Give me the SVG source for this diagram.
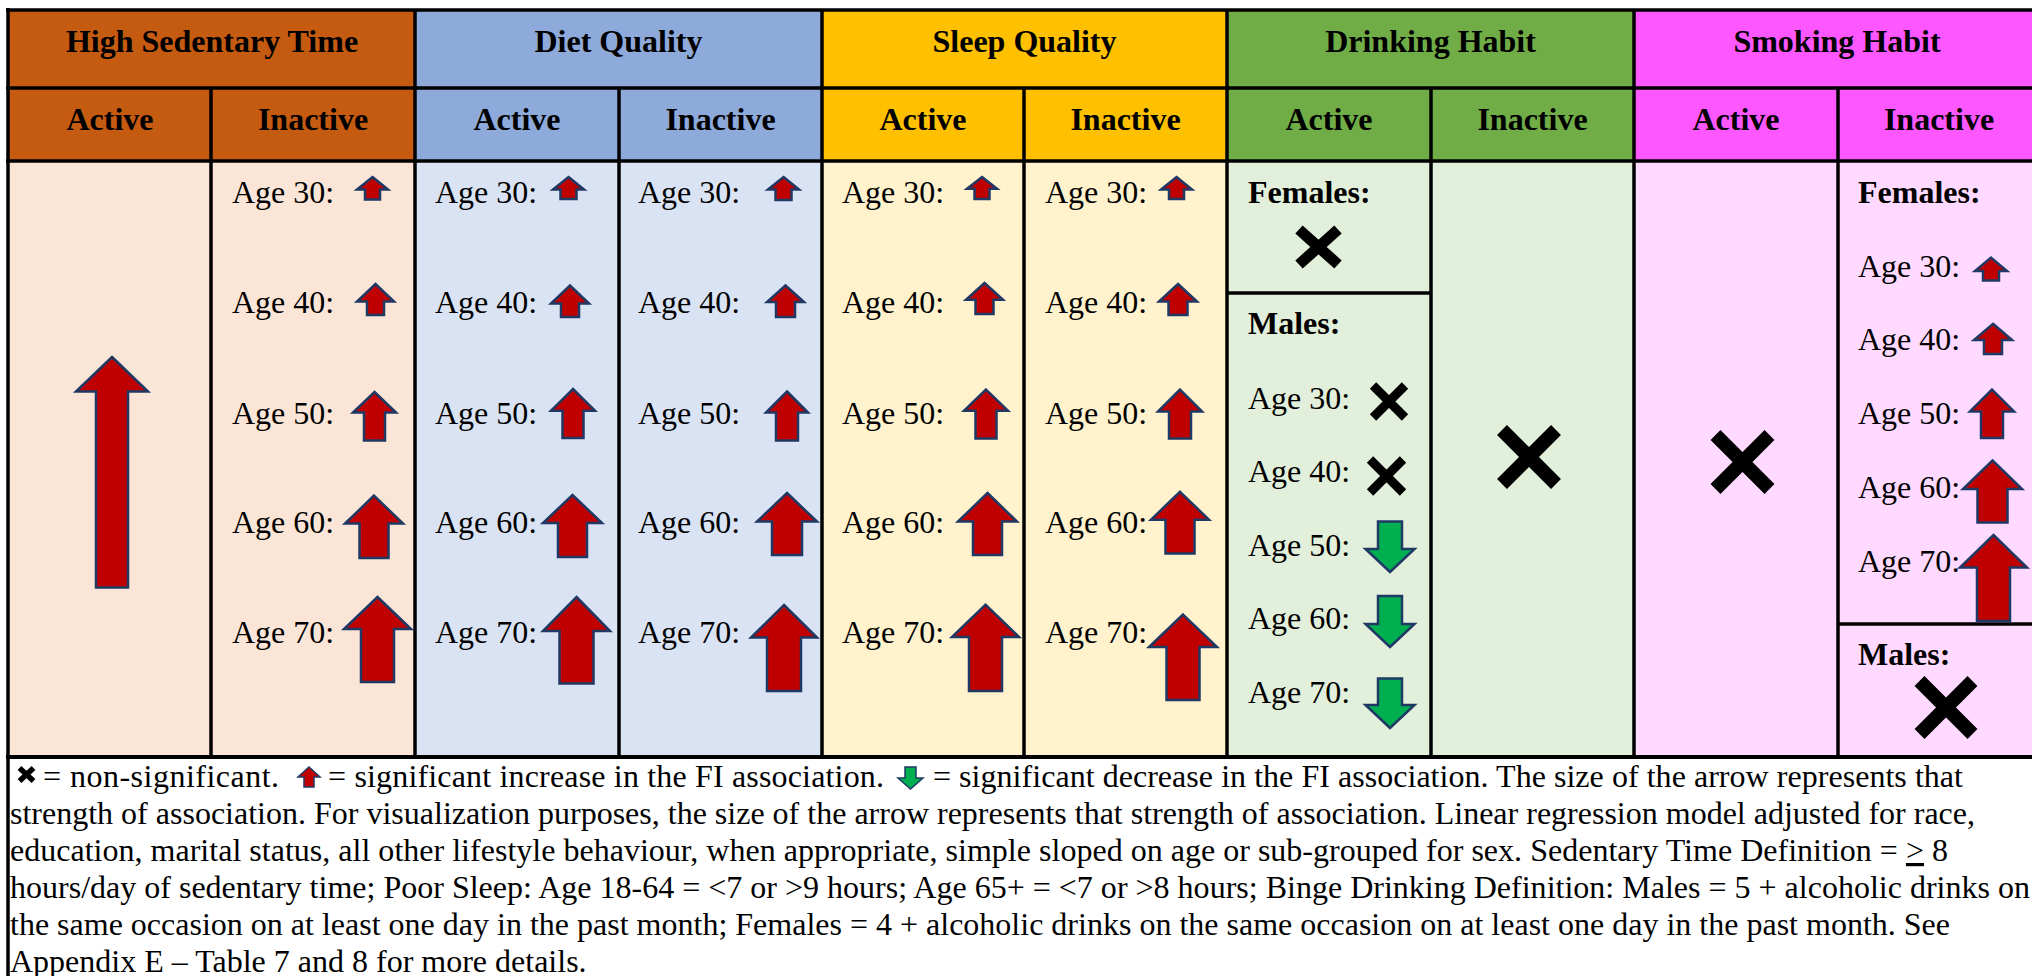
<svg xmlns="http://www.w3.org/2000/svg" width="2032" height="976" viewBox="0 0 2032 976">
<style>
  text { font-family: "Liberation Serif", "Times New Roman", serif; font-size: 32px; fill: #000; }
  .h { font-weight: bold; text-anchor: middle; }
  .b { font-weight: bold; }
  .grid { stroke: #000; stroke-width: 3.5; fill: none; }
  .up { fill: #C00000; stroke: #203864; stroke-width: 2.5; }
  .dn { fill: #00B050; stroke: #203864; stroke-width: 2.5; }
  .upS { fill: #C00000; stroke: #203864; stroke-width: 1.5; }
  .dnS { fill: #00B050; stroke: #203864; stroke-width: 1.5; }
  .x { stroke: #000; fill: none; stroke-linecap: butt; }
</style>
<rect x="0" y="0" width="2032" height="976" fill="#FFFFFF"/>

<g id="backgrounds">
  <rect x="8" y="10" width="407" height="151" fill="#C55A11"/>
  <rect x="415" y="10" width="407" height="151" fill="#8EAADB"/>
  <rect x="822" y="10" width="405" height="151" fill="#FFC000"/>
  <rect x="1227" y="10" width="407" height="151" fill="#70AD47"/>
  <rect x="1634" y="10" width="406" height="151" fill="#FF57FF"/>
  <rect x="8" y="161" width="407" height="596" fill="#FBE5D6"/>
  <rect x="415" y="161" width="407" height="596" fill="#DAE3F3"/>
  <rect x="822" y="161" width="405" height="596" fill="#FFF2CC"/>
  <rect x="1227" y="161" width="407" height="596" fill="#E2EFDA"/>
  <rect x="1634" y="161" width="406" height="596" fill="#FFD9FF"/>
  <rect x="8" y="757" width="2032" height="230" fill="#FFFFFF"/>
</g>

<g id="grid" class="grid">
  <line x1="6" y1="10" x2="2040" y2="10"/>
  <line x1="8" y1="8" x2="8" y2="990"/>
  <line x1="6" y1="88" x2="2040" y2="88"/>
  <line x1="6" y1="161" x2="2040" y2="161"/>
  <line x1="6" y1="757" x2="2040" y2="757" stroke-width="4"/>
  <line x1="415" y1="10" x2="415" y2="757"/>
  <line x1="822" y1="10" x2="822" y2="757"/>
  <line x1="1227" y1="10" x2="1227" y2="757"/>
  <line x1="1634" y1="10" x2="1634" y2="757"/>
  <line x1="211" y1="88" x2="211" y2="757"/>
  <line x1="619" y1="88" x2="619" y2="757"/>
  <line x1="1024" y1="88" x2="1024" y2="757"/>
  <line x1="1431" y1="88" x2="1431" y2="757"/>
  <line x1="1838" y1="88" x2="1838" y2="757"/>
  <line x1="1227" y1="293" x2="1431" y2="293"/>
  <line x1="1838" y1="624" x2="2040" y2="624"/>
</g>

<g id="headers">
  <text class="h" x="212" y="52">High Sedentary Time</text>
  <text class="h" x="618.5" y="52">Diet Quality</text>
  <text class="h" x="1024.5" y="52">Sleep Quality</text>
  <text class="h" x="1430.5" y="52">Drinking Habit</text>
  <text class="h" x="1837" y="52">Smoking Habit</text>
  <text class="h" x="110" y="129.5">Active</text>
  <text class="h" x="313" y="129.5">Inactive</text>
  <text class="h" x="517" y="129.5">Active</text>
  <text class="h" x="720.5" y="129.5">Inactive</text>
  <text class="h" x="923" y="129.5">Active</text>
  <text class="h" x="1125.5" y="129.5">Inactive</text>
  <text class="h" x="1329" y="129.5">Active</text>
  <text class="h" x="1532.5" y="129.5">Inactive</text>
  <text class="h" x="1736" y="129.5">Active</text>
  <text class="h" x="1939" y="129.5">Inactive</text>
</g>

<g id="sedentary-active">
  <polygon class="up" points="112,357 148,391.5 128,391.5 128,587.5 96,587.5 96,391.5 76,391.5"/>
</g>

<g id="sedentary-inactive">
  <text x="232" y="203">Age 30:</text>
  <text x="232" y="313">Age 40:</text>
  <text x="232" y="424">Age 50:</text>
  <text x="232" y="533">Age 60:</text>
  <text x="232" y="643">Age 70:</text>
  <polygon class="up" points="372.5,177 388,189.5 380,189.5 380,199.5 365,199.5 365,189.5 357,189.5"/>
  <polygon class="up" points="375.5,284 394,301.6 384,301.6 384,315 367,315 367,301.6 357,301.6"/>
  <polygon class="up" points="374.5,392 396,412.6 385,412.6 385,440.5 364,440.5 364,412.6 353,412.6"/>
  <polygon class="up" points="374,495.6 403,523.6 388.5,523.6 388.5,558 359.5,558 359.5,523.6 345,523.6"/>
  <polygon class="up" points="377.5,597 411,629 394,629 394,682 361,682 361,629 344,629"/>
</g>

<g id="diet-active">
  <text x="435" y="203">Age 30:</text>
  <text x="435" y="313">Age 40:</text>
  <text x="435" y="424">Age 50:</text>
  <text x="435" y="533">Age 60:</text>
  <text x="435" y="643">Age 70:</text>
  <polygon class="up" points="568.5,177 584,189.5 576.5,189.5 576.5,199 560.5,199 560.5,189.5 553,189.5"/>
  <polygon class="up" points="570,285.5 589,303.5 579,303.5 579,317 561,317 561,303.5 551,303.5"/>
  <polygon class="up" points="573,389 595,410.7 583.5,410.7 583.5,438 562.5,438 562.5,410.7 551,410.7"/>
  <polygon class="up" points="572.5,495 602,523 587,523 587,557 558,557 558,523 543,523"/>
  <polygon class="up" points="576.5,597 610,631 593.5,631 593.5,683.5 559.5,683.5 559.5,631 543,631"/>
</g>

<g id="diet-inactive">
  <text x="638" y="203">Age 30:</text>
  <text x="638" y="313">Age 40:</text>
  <text x="638" y="424">Age 50:</text>
  <text x="638" y="533">Age 60:</text>
  <text x="638" y="643">Age 70:</text>
  <polygon class="up" points="783.5,177 799,189.5 791.5,189.5 791.5,200 775.5,200 775.5,189.5 768,189.5"/>
  <polygon class="up" points="785.5,285.5 804,302 795,302 795,317 776,317 776,302 767,302"/>
  <polygon class="up" points="787,391.5 808,412.6 798,412.6 798,440.5 776,440.5 776,412.6 766,412.6"/>
  <polygon class="up" points="787,493 817,521.6 802,521.6 802,555 772,555 772,521.6 757,521.6"/>
  <polygon class="up" points="784,605 817,637.6 801,637.6 801,691 767,691 767,637.6 751,637.6"/>
</g>

<g id="sleep-active">
  <text x="842" y="203">Age 30:</text>
  <text x="842" y="313">Age 40:</text>
  <text x="842" y="424">Age 50:</text>
  <text x="842" y="533">Age 60:</text>
  <text x="842" y="643">Age 70:</text>
  <polygon class="up" points="982,177 997,188.7 989.5,188.7 989.5,199 974.5,199 974.5,188.7 967,188.7"/>
  <polygon class="up" points="984.5,283 1003,299.7 993.5,299.7 993.5,314 975.5,314 975.5,299.7 966,299.7"/>
  <polygon class="up" points="986,389.6 1008,410.7 996.5,410.7 996.5,438.6 975.5,438.6 975.5,410.7 964,410.7"/>
  <polygon class="up" points="987.5,493 1017,521.6 1002,521.6 1002,555 973,555 973,521.6 958,521.6"/>
  <polygon class="up" points="985.5,604.7 1019,637 1002,637 1002,691 969,691 969,637 952,637"/>
</g>

<g id="sleep-inactive">
  <text x="1045" y="203">Age 30:</text>
  <text x="1045" y="313">Age 40:</text>
  <text x="1045" y="424">Age 50:</text>
  <text x="1045" y="533">Age 60:</text>
  <text x="1045" y="643">Age 70:</text>
  <polygon class="up" points="1176.5,177 1192,189.5 1184,189.5 1184,199 1169,199 1169,189.5 1161,189.5"/>
  <polygon class="up" points="1178,284 1197,301.6 1187.5,301.6 1187.5,315 1168.5,315 1168.5,301.6 1159,301.6"/>
  <polygon class="up" points="1180,389.6 1202,411.4 1191,411.4 1191,438.6 1169,438.6 1169,411.4 1158,411.4"/>
  <polygon class="up" points="1180,491.8 1209,519.7 1194.5,519.7 1194.5,553.4 1165.5,553.4 1165.5,519.7 1151,519.7"/>
  <polygon class="up" points="1183,614.6 1217,647 1199.5,647 1199.5,700 1166.5,700 1166.5,647 1149,647"/>
</g>

<g id="drinking-active">
  <text class="b" x="1248" y="203">Females:</text>
  <path class="x" stroke-width="11" d="M1299,229.5 L1338,264.5 M1338,229.5 L1299,264.5"/>
  <text class="b" x="1248" y="334">Males:</text>
  <text x="1248" y="409">Age 30:</text>
  <text x="1248" y="482">Age 40:</text>
  <text x="1248" y="556">Age 50:</text>
  <text x="1248" y="629">Age 60:</text>
  <text x="1248" y="703">Age 70:</text>
  <path class="x" stroke-width="9" d="M1373,385.5 L1405,417.5 M1405,385.5 L1373,417.5"/>
  <path class="x" stroke-width="9" d="M1370,459.5 L1403,492.5 M1403,459.5 L1370,492.5"/>
  <polygon class="dn" points="1378,521.6 1402,521.6 1402,549 1414.5,549 1390,572 1365.5,549 1378,549"/>
  <polygon class="dn" points="1378,596 1402,596 1402,624 1414.5,624 1390,647 1365.5,624 1378,624"/>
  <polygon class="dn" points="1378,678.6 1402,678.6 1402,705 1414.5,705 1390,728 1365.5,705 1378,705"/>
</g>

<g id="drinking-inactive">
  <path class="x" stroke-width="14" d="M1502,430 L1556,484 M1556,430 L1502,484"/>
</g>

<g id="smoking-active">
  <path class="x" stroke-width="14" d="M1715.5,435 L1769.5,489 M1769.5,435 L1715.5,489"/>
</g>

<g id="smoking-inactive">
  <text class="b" x="1858" y="203">Females:</text>
  <text x="1858" y="277">Age 30:</text>
  <text x="1858" y="350">Age 40:</text>
  <text x="1858" y="424">Age 50:</text>
  <text x="1858" y="497.5">Age 60:</text>
  <text x="1858" y="571.5">Age 70:</text>
  <polygon class="up" points="1991,257.6 2007,271 1999,271 1999,280.5 1983,280.5 1983,271 1975,271"/>
  <polygon class="up" points="1993,323.8 2012,340 2002,340 2002,354 1984,354 1984,340 1974,340"/>
  <polygon class="up" points="1992,389.6 2014,411.4 2003,411.4 2003,438 1981,438 1981,411.4 1970,411.4"/>
  <polygon class="up" points="1992.5,460.4 2022,489 2007.5,489 2007.5,522.4 1977.5,522.4 1977.5,489 1963,489"/>
  <polygon class="up" points="1993.5,535 2027,567.6 2010,567.6 2010,621 1977,621 1977,567.6 1960,567.6"/>
  <text class="b" x="1858" y="665">Males:</text>
  <path class="x" stroke-width="14" d="M1919.5,681 L1972.5,734 M1972.5,681 L1919.5,734"/>
</g>

<g id="connectors"></g>

<g id="footer">
  <path class="x" stroke-width="5.5" d="M19.5,768 L33.5,781 M33.5,768 L19.5,781"/>
  <text x="43" y="787" textLength="236" lengthAdjust="spacing">= non-significant.</text>
  <polygon class="upS" points="309,767 320,777 314,777 314,787 304,787 304,777 298,777"/>
  <text x="328" y="787" textLength="556" lengthAdjust="spacing">= significant increase in the FI association.</text>
  <polygon class="dnS" points="905,767 916,767 916,778 923,778 910.5,789 898,778 905,778"/>
  <text x="933" y="787" textLength="1030" lengthAdjust="spacing">= significant decrease in the FI association. The size of the arrow represents that</text>
  <text x="10" y="824" textLength="1965" lengthAdjust="spacing">strength of association. For visualization purposes, the size of the arrow represents that strength of association. Linear regression model adjusted for race,</text>
  <text x="10" y="861" textLength="1938" lengthAdjust="spacing">education, marital status, all other lifestyle behaviour, when appropriate, simple sloped on age or sub-grouped for sex. Sedentary Time Definition = <tspan text-decoration="underline">&gt;</tspan> 8</text>
  <text x="10" y="898" textLength="2020" lengthAdjust="spacing">hours/day of sedentary time; Poor Sleep: Age 18-64 = &lt;7 or &gt;9 hours; Age 65+ = &lt;7 or &gt;8 hours; Binge Drinking Definition: Males = 5 + alcoholic drinks on</text>
  <text x="10" y="935" textLength="1940" lengthAdjust="spacing">the same occasion on at least one day in the past month; Females = 4 + alcoholic drinks on the same occasion on at least one day in the past month. See</text>
  <text x="10" y="972">Appendix E – Table 7 and 8 for more details.</text>
</g>
</svg>
